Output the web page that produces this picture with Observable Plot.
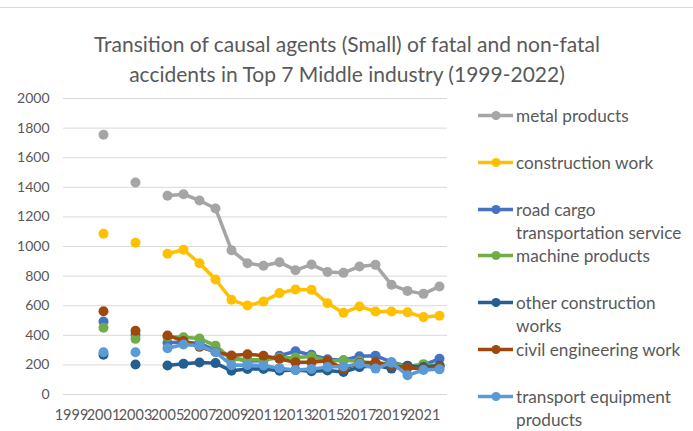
<!DOCTYPE html>
<html>
<head>
<meta charset="utf-8">
<script src="https://cdn.jsdelivr.net/npm/d3@7"></script>
<script src="https://cdn.jsdelivr.net/npm/@observablehq/plot@0.6"></script>
<style>
  html, body { margin: 0; padding: 0; background: #fff; }
  #wrap { position: relative; width: 693px; height: 431px; overflow: hidden; font-family: Lato, "Open Sans", sans-serif; color: #595959; }
  #frame { position: absolute; left: 0; top: 7px; width: 693px; height: 0; border-top: 1px solid #d9d9d9; }
  #title { position: absolute; left: 7px; top: 29px; width: 680px; text-align: center; font-size: 21px; line-height: 30px; color: #595959; }
  #chart { position: absolute; left: 0; top: 0; }
  .leg { position: absolute; left: 478px; font-size: 17.2px; line-height: 23px; color: #595959; }
  .leg svg { position: absolute; left: 0; top: 5px; }
  .leg span { position: absolute; left: 38px; top: 0; white-space: nowrap; }
</style>
</head>
<body>
<div id="wrap">
  <div id="frame"></div>
  <div id="title">Transition of causal agents (Small) of fatal and non-fatal<br>accidents in Top 7 Middle industry (1999-2022)</div>
  <div id="chart"></div>
</div>
<script>
const years = [1999, 2000, 2001, 2002, 2003, 2004, 2005, 2006, 2007, 2008, 2009, 2010, 2011, 2012, 2013, 2014, 2015, 2016, 2017, 2018, 2019, 2020, 2021, 2022];
const xTickLabels = [1999, 2001, 2003, 2005, 2007, 2009, 2011, 2013, 2015, 2017, 2019, 2021];
const yTickLabels = [0, 200, 400, 600, 800, 1000, 1200, 1400, 1600, 1800, 2000];

const seriesNames = ["metal products", "construction work", "road cargo transportation service", "machine products", "other construction works", "civil engineering work", "transport equipment products"];
const legendLabels = [["metal products"], ["construction work"], ["road cargo", "transportation service"], ["machine products"], ["other construction", "works"], ["civil engineering work"], ["transport equipment", "products"]];
const seriesColors = ["#A5A5A5", "#FFC000", "#4472C4", "#70AD47", "#255E91", "#9E480E", "#5B9BD5"];

const metalProducts = [null, null, 1755, null, 1432, null, 1343, 1353, 1311, 1257, 975, 887, 870, 894, 840, 878, 828, 822, 865, 876, 741, 700, 680, 730];
const constructionWork = [null, null, 1086, null, 1025, null, 951, 978, 887, 777, 640, 601, 628, 685, 709, 707, 617, 552, 595, 561, 561, 556, 523, 532];
const roadCargo = [null, null, 493, null, 403, null, 350, 355, 345, 300, 250, 225, 230, 262, 292, 268, 238, 232, 258, 262, 218, 192, 200, 241];
const machineProducts = [null, null, 451, null, 376, null, 390, 387, 378, 330, 241, 234, 234, 248, 250, 257, 225, 232, 225, 210, 210, 188, 205, 195];
const otherConstruction = [null, null, 268, null, 203, null, 196, 207, 216, 212, 160, 173, 173, 160, 165, 157, 162, 152, 185, 195, 175, 195, 185, 196];
const civilEngineering = [null, null, 563, null, 430, null, 399, 362, 322, 288, 263, 272, 262, 240, 218, 218, 228, 175, 212, 218, 196, 180, 173, 185];
const transportEquipment = [null, null, 286, null, 286, null, 313, 338, 330, 286, 198, 200, 196, 178, 165, 173, 185, 190, 207, 175, 215, 130, 165, 170];

const seriesValues = [metalProducts, constructionWork, roadCargo, machineProducts, otherConstruction, civilEngineering, transportEquipment];

const rows = [];
seriesNames.forEach((name, s) => {
  years.forEach((yr, i) => rows.push({series: name, year: yr, value: seriesValues[s][i]}));
});

const marks = [
  Plot.ruleY(yTickLabels, {stroke: "#d9d9d9", strokeWidth: 1}),
  Plot.axisY(yTickLabels, {tickSize: 0, tickPadding: 14, fontSize: 14, label: null, tickFormat: d => String(d)}),
  Plot.axisX(xTickLabels, {tickSize: 0, tickPadding: 15, fontSize: 14.5, label: null, tickFormat: d => String(d)})
];
seriesNames.forEach((name, s) => {
  const d = rows.filter(r => r.series === name);
  marks.push(Plot.line(d, {x: "year", y: "value", stroke: seriesColors[s], strokeWidth: 3.5, strokeLinejoin: "round"}));
  marks.push(Plot.dot(d.filter(r => r.value != null), {x: "year", y: "value", r: 5, fill: seriesColors[s], stroke: "none"}));
});

const chart = Plot.plot({
  width: 693,
  height: 431,
  marginLeft: 63,
  marginRight: 246,
  marginTop: 98,
  marginBottom: 37,
  style: {fontFamily: "Lato, 'Open Sans', sans-serif", color: "#595959", background: "transparent", overflow: "visible"},
  x: {type: "point", domain: years, padding: 0.5},
  y: {domain: [0, 2000]},
  marks
});
document.getElementById("chart").appendChild(chart);

// legend
const legendTops = [115, 162, 209, 255, 302, 349, 396];
const wrap = document.getElementById("wrap");
legendLabels.forEach((lines, s) => {
  const div = document.createElement("div");
  div.className = "leg";
  div.style.top = (legendTops[s] - 11.5) + "px";
  const sw = d3.create("svg").attr("width", 36).attr("height", 14);
  sw.append("line").attr("x1", 0).attr("x2", 35).attr("y1", 6.5).attr("y2", 6.5).attr("stroke", seriesColors[s]).attr("stroke-width", 3.5);
  sw.append("circle").attr("cx", 18).attr("cy", 6.5).attr("r", 4.5).attr("fill", seriesColors[s]);
  div.appendChild(sw.node());
  const span = document.createElement("span");
  span.innerHTML = lines.join("<br>");
  div.appendChild(span);
  wrap.appendChild(div);
});
</script>
</body>
</html>
